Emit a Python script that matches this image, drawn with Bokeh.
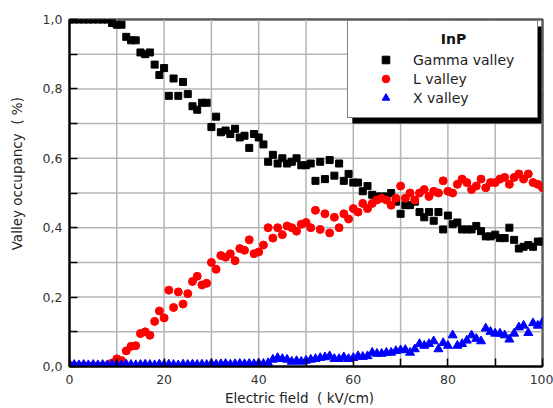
import math
from bokeh.plotting import figure
from bokeh.models import (FixedTicker, CustomJSTickFormatter, Legend,
                          LegendItem, BoxAnnotation, Range1d)
from bokeh.embed import file_html
from bokeh.resources import INLINE

# ---------------- data ----------------
field = list(range(0, 101))  # kV/cm, 1 kV/cm steps

gamma = [1.0, 1.0, 1.0, 1.0, 1.0, 1.0, 1.0, 1.0, 1.0, 0.99,
         0.985, 0.985, 0.95, 0.94, 0.94, 0.905, 0.90, 0.905, 0.87, 0.84,
         0.86, 0.78, 0.83, 0.78, 0.82, 0.785, 0.75, 0.74, 0.76, 0.76,
         0.69, 0.72, 0.675, 0.68, 0.67, 0.685, 0.66, 0.665, 0.63, 0.67,
         0.66, 0.64, 0.59, 0.61, 0.585, 0.60, 0.585, 0.59, 0.60, 0.58,
         0.58, 0.585, 0.535, 0.59, 0.54, 0.595, 0.55, 0.585, 0.535, 0.555,
         0.53, 0.53, 0.505, 0.52, 0.495, 0.49, 0.49, 0.49, 0.50, 0.475,
         0.44, 0.465, 0.465, 0.475, 0.445, 0.43, 0.445, 0.42, 0.445, 0.395,
         0.435, 0.41, 0.415, 0.395, 0.395, 0.395, 0.405, 0.39, 0.375, 0.375,
         0.38, 0.37, 0.37, 0.40, 0.365, 0.34, 0.345, 0.35, 0.345, 0.36,
         0.36]

l_valley = [0.004, 0.002, 0.002, 0.002, 0.002, 0.002, 0.002, 0.002, 0.003, 0.01,
            0.022, 0.017, 0.045, 0.058, 0.06, 0.095, 0.10, 0.09, 0.13, 0.16,
            0.14, 0.22, 0.17, 0.215, 0.18, 0.21, 0.245, 0.26, 0.235, 0.24,
            0.30, 0.28, 0.32, 0.315, 0.325, 0.305, 0.34, 0.335, 0.365, 0.325,
            0.33, 0.35, 0.40, 0.37, 0.40, 0.38, 0.405, 0.40, 0.39, 0.41,
            0.415, 0.40, 0.45, 0.395, 0.44, 0.385, 0.43, 0.40, 0.44, 0.425,
            0.455, 0.445, 0.47, 0.455, 0.47, 0.48, 0.485, 0.48, 0.465, 0.485,
            0.52, 0.485, 0.50, 0.48, 0.50, 0.51, 0.49, 0.505, 0.50, 0.535,
            0.505, 0.50, 0.525, 0.54, 0.53, 0.51, 0.52, 0.54, 0.515, 0.53,
            0.53, 0.54, 0.545, 0.525, 0.545, 0.555, 0.54, 0.555, 0.53, 0.525,
            0.515]

x_valley = [0.004, 0.005, 0.004, 0.005, 0.004, 0.005, 0.004, 0.005, 0.004, 0.005,
            0.005, 0.004, 0.006, 0.005, 0.004, 0.005, 0.006, 0.005, 0.004, 0.006,
            0.005, 0.006, 0.005, 0.004, 0.006, 0.005, 0.006, 0.005, 0.006, 0.005,
            0.008, 0.006, 0.007, 0.008, 0.006, 0.007, 0.008, 0.007, 0.008, 0.007,
            0.009, 0.008, 0.01, 0.02, 0.025, 0.022, 0.02, 0.014, 0.016, 0.014,
            0.017, 0.02, 0.022, 0.025, 0.027, 0.03, 0.022, 0.022, 0.027, 0.022,
            0.025, 0.03, 0.028, 0.03, 0.04, 0.037, 0.037, 0.04, 0.04, 0.045,
            0.047, 0.048, 0.04, 0.05, 0.065, 0.06, 0.065, 0.073, 0.05, 0.068,
            0.06, 0.09, 0.06, 0.065, 0.075, 0.09, 0.08, 0.073, 0.11, 0.10,
            0.095, 0.095, 0.09, 0.078, 0.095, 0.113, 0.118, 0.097, 0.125, 0.118,
            0.128]

x_ticks = [0, 20, 40, 60, 80, 100]
x_minor = [10, 30, 50, 70, 90]
y_ticks = [0.0, 0.2, 0.4, 0.6, 0.8, 1.0]
y_minor = [0.1, 0.3, 0.5, 0.7, 0.9]

series_names = ["Gamma valley", "L valley", "X valley"]
legend_title = "InP"
NB = "\u00a0"
x_title = "Electric field" + NB + " ( kV/cm)" + NB * 3
y_title = NB * 9 + "Valley occupancy" + NB + " ( %)"

# ---------------- figure ----------------
FONT = "DejaVu Sans"
p = figure(width=553, height=408, x_range=Range1d(0, 100), y_range=Range1d(0, 1),
           output_backend="svg", toolbar_location=None,
           min_border_left=69, min_border_right=11, min_border_top=19,
           min_border_bottom=42)
p.outline_line_color = "black"
p.outline_line_width = 2

p.xaxis.ticker = FixedTicker(ticks=x_ticks, minor_ticks=x_minor)
p.yaxis.ticker = FixedTicker(ticks=y_ticks, minor_ticks=y_minor)
p.yaxis.formatter = CustomJSTickFormatter(code="return tick.toFixed(1).replace('.', ',');")

for ax in (p.xaxis[0], p.yaxis[0]):
    ax.axis_line_width = 2
    ax.axis_line_color = "black"
    ax.major_tick_in = 8
    ax.major_tick_out = 0
    ax.minor_tick_in = 8
    ax.minor_tick_out = 0
    ax.major_tick_line_width = 1.5
    ax.minor_tick_line_width = 1.5
    ax.major_label_text_font = FONT
    ax.major_label_text_font_size = "12.5px"
    ax.major_label_text_color = "#333333"
    ax.axis_label_text_font = FONT
    ax.axis_label_text_font_size = "13.5px"
    ax.axis_label_text_font_style = "normal"
    ax.axis_label_text_color = "#222222"
p.xaxis.major_label_standoff = 8
p.yaxis.major_label_standoff = 7
p.xaxis.axis_label = x_title
p.yaxis.axis_label = y_title
p.xaxis.axis_label_standoff = 3
p.yaxis.axis_label_standoff = 15

# grid lines at every major and minor tick (drawn beneath the markers)
p.grid.grid_line_color = None
GRID = "#b4b4b4"
gx = x_ticks + x_minor
gy = y_ticks + y_minor
p.segment(x0=gx, y0=[0] * len(gx), x1=gx, y1=[1] * len(gx),
          line_color=GRID, line_width=1.5)
p.segment(x0=[0] * len(gy), y0=gy, x1=[100] * len(gy), y1=gy,
          line_color=GRID, line_width=1.5)

r_g = p.scatter(field, gamma, marker="square", size=7, color="black")
r_l = p.scatter(field, l_valley, marker="circle", size=8, color="#ff0000")
r_x = p.scatter(field, x_valley, marker="triangle", size=9, color="#0000ff")

# legend shadow
shadow = BoxAnnotation(left=59.8, right=99.8, top=0.980, bottom=0.700,
                       fill_color="black", fill_alpha=1.0, line_color=None)
p.add_layout(shadow)

legend = Legend(items=[LegendItem(label=series_names[0], renderers=[r_g]),
                       LegendItem(label=series_names[1], renderers=[r_l]),
                       LegendItem(label=series_names[2], renderers=[r_x])],
                location=(278, 248), padding=10, spacing=0,
                glyph_width=55, glyph_height=19, label_height=19,
                label_width=114, label_standoff=0,
                label_text_font=FONT, label_text_font_size="14px",
                label_text_color="#222222",
                border_line_color="black", border_line_width=1,
                background_fill_color="white", background_fill_alpha=1.0,
                title=NB * 17 + legend_title, title_text_color="#111111",
                title_text_font=FONT, title_text_font_style="bold",
                title_text_font_size="14px", title_standoff=3)
p.add_layout(legend)

open("out.html", "w").write(file_html(p, INLINE))
